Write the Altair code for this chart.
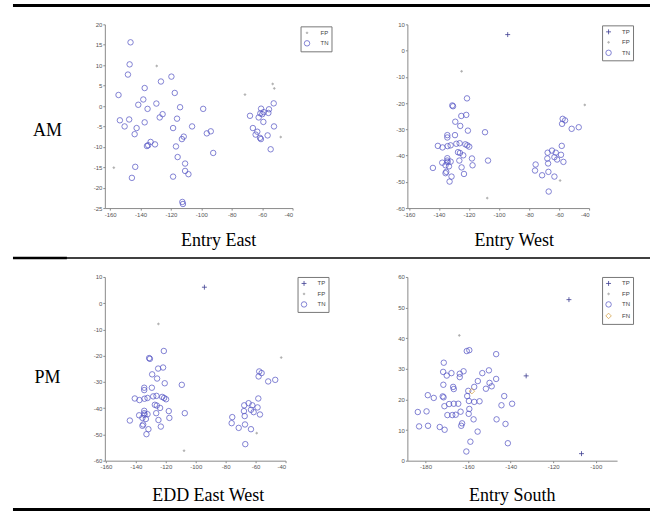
import altair as alt
import pandas as pd

# ---------------- data ----------------
# Panel 1: AM / Entry East
p1_fp_x = [-129.4, -157.6, -71.3, -53.1, -52.0, -47.8]
p1_fp_y = [9.8, -15.1, 2.8, 5.4, 4.3, -7.6]
p1_tn_x = [-146.6, -147.2, -148.3, -137.3, -126.6, -119.7, -117.5, -154.5, -138.2, -141.5,
           -129.6, -135.4, -114.0, -98.8, -153.6, -147.5, -150.5, -142.6, -143.9, -137.3,
           -125.5, -127.4, -116.0, -118.6, -106.1, -111.6, -112.8, -96.4, -93.8, -133.4,
           -135.8, -135.0, -130.5, -116.7, -92.2, -115.6, -110.7, -143.5, -110.7, -108.5,
           -145.7, -118.6, -112.5, -112.1,
           -68.0, -62.3, -60.7, -61.2, -59.9, -59.0, -55.5, -55.9, -52.4, -59.2,
           -66.1, -52.2, -63.2, -64.3, -61.4, -60.8, -56.4, -54.4]
p1_tn_y = [15.6, 10.2, 7.7, 4.4, 6.0, 7.2, 3.2, 2.7, 1.6, 0.3,
           0.6, -0.7, -0.3, -0.7, -3.5, -3.3, -5.0, -5.4, -6.9, -4.0,
           -2.0, -2.8, -3.1, -5.4, -5.0, -7.5, -8.1, -6.7, -6.2, -8.8,
           -9.8, -9.6, -9.4, -9.9, -11.5, -12.5, -14.1, -14.9, -15.9, -16.7,
           -17.6, -17.3, -23.5, -24.0,
           -2.4, -2.8, -0.65, -1.8, -2.0, -1.5, -0.8, -1.7, 0.65, -3.9,
           -5.4, -5.0, -6.3, -7.0, -7.8, -8.1, -7.2, -10.6]

# Panel 2: AM / Entry West  (panel 3, PM / EDD East West, shows the same scatter)
p2_tp_x = [-94.2]
p2_tp_y = [6.1]
p2_fp_x = [-124.9, -42.9, -107.8, -59.3]
p2_fp_y = [-7.9, -20.7, -56.2, -49.5]
p2_tn_x = [-121.3, -131.1, -130.6, -121.8, -125.1, -129.1, -125.8, -120.7, -109.3, -134.4,
           -134.4, -129.3, -140.7, -137.6, -134.2, -132.2, -128.4, -126.2, -122.4, -121.1,
           -119.8, -127.3, -126.0, -123.8, -118.0, -134.4, -134.4, -107.3, -137.8, -134.2,
           -132.2, -135.6, -133.3, -117.6, -126.4, -144.0, -124.9, -135.1, -135.6, -123.3,
           -131.6, -132.9,
           -57.6, -56.0, -58.0, -51.6, -46.9, -58.2, -64.7, -67.6, -62.2, -58.7,
           -67.8, -63.1, -61.3, -57.1, -67.3, -75.6, -76.0, -71.3, -67.1, -63.1, -66.9]
p2_tn_y = [-18.2, -20.9, -21.2, -24.5, -24.9, -27.1, -28.7, -30.5, -31.1, -32.2,
           -33.1, -32.2, -36.3, -36.9, -36.4, -36.1, -35.5, -35.3, -35.7, -36.1,
           -36.6, -38.7, -39.0, -39.9, -41.1, -41.0, -41.9, -41.9, -42.7, -42.5,
           -42.3, -43.7, -44.1, -43.7, -41.9, -44.7, -44.5, -46.2, -46.7, -47.0,
           -48.0, -49.9,
           -26.0, -26.6, -27.9, -29.8, -29.2, -36.3, -38.1, -38.9, -38.9, -39.7,
           -41.1, -40.6, -41.5, -42.4, -43.0, -43.4, -45.7, -47.5, -46.2, -48.0, -53.7]

# Panel 4: PM / Entry South
p4_tp_x = [-112.6, -132.7, -106.7]
p4_tp_y = [52.6, 27.7, 2.3]
p4_fp_x = [-164.1]
p4_fp_y = [40.9]
p4_fn_x = [-158.2]
p4_fn_y = [22.7]
p4_tn_x = [-159.4, -160.6, -146.8, -171.4, -171.7, -170.0, -167.8, -163.9, -163.9, -162.1,
           -153.3, -150.2, -146.8, -149.9, -148.9, -151.6, -171.6, -167.0, -166.7, -155.4,
           -157.1, -159.9, -160.4, -178.9, -176.1, -171.9, -171.5, -143.0, -171.1, -168.9,
           -166.7, -164.6, -159.6, -157.1, -154.6, -144.3, -139.3, -159.4, -163.5, -169.7,
           -167.4, -165.8, -159.7, -157.4, -183.6, -179.5, -146.6, -142.4, -183.0, -178.8,
           -173.3, -171.0, -162.8, -163.2, -155.5, -158.9, -141.3, -160.8]
p4_tn_y = [36.1, 35.8, 34.8, 32.0, 29.0, 27.8, 28.6, 28.4, 27.3, 29.2,
           28.6, 29.5, 26.7, 25.4, 24.3, 23.5, 24.8, 24.1, 23.4, 26.0,
           24.1, 22.8, 21.1, 21.4, 20.5, 21.0, 20.7, 21.1, 17.8, 18.5,
           18.6, 18.6, 19.5, 19.2, 19.4, 18.1, 18.6, 16.9, 16.0, 14.9,
           14.9, 15.0, 15.3, 13.5, 15.9, 16.1, 13.5, 12.0, 11.2, 11.4,
           11.0, 10.1, 12.2, 11.4, 9.5, 6.2, 5.7, 3.0]

# tick labels
p1_xticks = [-160, -140, -120, -100, -80, -60, -40]
p1_yticks = [-25, -20, -15, -10, -5, 0, 5, 10, 15, 20]
p2_yticks = [-60, -50, -40, -30, -20, -10, 0, 10]
p4_xticks = [-180, -160, -140, -120, -100]
p4_yticks = [0, 10, 20, 30, 40, 50, 60]

# ---------------- styling ----------------
PLUS = "M-0.9,0L0.9,0M0,-0.9L0,0.9"
DOT = "M-0.32,0A0.32,0.32 0 1,0 0.32,0A0.32,0.32 0 1,0 -0.32,0Z"
STROKE = {"TP": "#2a2a86", "FP": "#a6a6a6", "TN": "#5454c4", "FN": "#d39a3a"}
FILL = {"TP": "transparent", "FP": "#a6a6a6", "TN": "transparent", "FN": "transparent"}
SHAPE = {"TP": PLUS, "FP": DOT, "TN": "circle", "FN": "diamond"}
SERIF = "Liberation Serif"
SANS = "Liberation Sans"


def frame(groups):
    rows = []
    for cls, xs, ys in groups:
        for x, y in zip(xs, ys):
            rows.append({"x": x, "y": y, "cls": cls})
    return pd.DataFrame(rows)


def panel(df, classes, xdom, xticks, ydom, yticks, w, h, lx, ly,
          title, tdx, toff, row_label, row_ty):
    leg = alt.Legend(title=None, orient="none", legendX=lx, legendY=ly)

    def sc(mapping):
        return alt.Scale(domain=classes, range=[mapping[c] for c in classes])

    xaxis = alt.Axis(values=xticks, labelExpr="'' + datum.value", title=None,
                     grid=False, tickSize=2, labelPadding=1)
    yaxis = alt.Axis(values=yticks, labelExpr="'' + datum.value", grid=False,
                     tickSize=2, labelPadding=1, title=row_label, titleAngle=0,
                     titleX=-58, titleY=row_ty, titleAlign="center",
                     titleBaseline="middle", titleFont=SERIF, titleFontSize=18,
                     titleFontWeight="normal", titleColor="black")
    return (
        alt.Chart(df)
        .mark_point(strokeWidth=0.8, opacity=0.9, size=30)
        .encode(
            x=alt.X("x:Q", scale=alt.Scale(domain=xdom, nice=False, zero=False), axis=xaxis),
            y=alt.Y("y:Q", scale=alt.Scale(domain=ydom, nice=False, zero=False), axis=yaxis),
            stroke=alt.Stroke("cls:N", scale=sc(STROKE), legend=leg),
            fill=alt.Fill("cls:N", scale=sc(FILL), legend=leg),
            shape=alt.Shape("cls:N", scale=sc(SHAPE), legend=leg),
        )
        .properties(
            width=w, height=h,
            title=alt.TitleParams(title, orient="bottom", anchor="middle", dx=tdx,
                                  offset=toff, font=SERIF, fontSize=18,
                                  fontWeight="normal", color="black"),
        )
    )


one = pd.DataFrame({"v": [0]})


def rules_cell(w, h, rules):
    """A blank cell that carries the table's horizontal rules (x1, x2, y, width, colour)."""
    layers = []
    for x1, x2, y, sw, col in rules:
        layers.append(
            alt.Chart(one).mark_rule(color=col, strokeWidth=sw, strokeCap="butt")
            .encode(x=alt.value(x1), x2=alt.value(x2), y=alt.value(y), y2=alt.value(y))
        )
    return alt.layer(*layers).properties(width=w, height=h)


H = 184
ROW_GAP = 69

df1 = frame([("FP", p1_fp_x, p1_fp_y), ("TN", p1_tn_x, p1_tn_y)])
pan1 = panel(df1, ["FP", "TN"], [-163.5, -40], p1_xticks, [-25, 20], p1_yticks,
             188, H, 196, 2, "Entry East", 20, 15, "AM", 106)
df2 = frame([("TP", p2_tp_x, p2_tp_y), ("FP", p2_fp_x, p2_fp_y), ("TN", p2_tn_x, p2_tn_y)])
pan2 = panel(df2, ["TP", "FP", "TN"], [-161, -40], p1_xticks, [-60, 10], p2_yticks,
             182, H, 195, 1, "Entry West", 16, 15, "", 0)
pan3 = panel(df2, ["TP", "FP", "TN"], [-160.7, -40], p1_xticks, [-60, 10], p2_yticks,
             181, H, 193, 0, "EDD East West", 13, 17, "PM", 101)
df4 = frame([("TP", p4_tp_x, p4_tp_y), ("FP", p4_fp_x, p4_fp_y),
             ("TN", p4_tn_x, p4_tn_y), ("FN", p4_fn_x, p4_fn_y)])
pan4 = panel(df4, ["TP", "FP", "TN", "FN"], [-188.5, -90], p4_xticks, [0, 60], p4_yticks,
             210, H, 195, 0, "Entry South", 0, 17, "", 0)

# first-column cells carry the rules (row 1 top is at y=24, row 2 top at y=277)
left1 = rules_cell(104, H, [
    (0, 2, -23.75, 0.5, "white"),          # extent marker: page top
    (650, 651.75, -23.75, 0.5, "white"),   # extent marker: page right
    (12, 650, -19, 3, "black"),            # top rule
    (12, 650, 234, 1.3, "black"),          # middle rule
    (12, 66, 234, 2.6, "black"),           # thick stub of middle rule
])
left2 = rules_cell(104, H, [
    (12, 650, 233, 3, "black"),            # bottom rule
    (0, 2, 236.75, 0.5, "white"),          # extent marker: page bottom
])
gap1 = rules_cell(115, H, [(0, 1, 0, 0.1, "white")])
gap2 = rules_cell(115, H, [(0, 1, 0, 0.1, "white")])

chart = (
    alt.concat(left1, pan1, gap1, pan2, left2, pan3, gap2, pan4,
               columns=4, spacing={"row": ROW_GAP, "column": 0}, bounds="flush")
    .resolve_scale(x="independent", y="independent", stroke="independent",
                   fill="independent", shape="independent")
    .resolve_legend(stroke="independent", fill="independent", shape="independent")
    .properties(padding=0, background="white")
    .configure_view(stroke=None)
    .configure_axis(domainColor="#8a8a8a", tickColor="#8a8a8a", labelColor="#555555",
                    labelFont=SANS, labelFontSize=6, domainWidth=1)
    .configure_legend(strokeColor="#777777", fillColor="white", padding=3,
                      labelFont=SANS, labelFontSize=6, labelColor="#444444",
                      rowPadding=2.5, labelOffset=10, symbolStrokeWidth=0.8,
                      symbolSize=30, cornerRadius=0)
)

chart.save("out.html", embed_options={"renderer": "svg", "actions": False})
